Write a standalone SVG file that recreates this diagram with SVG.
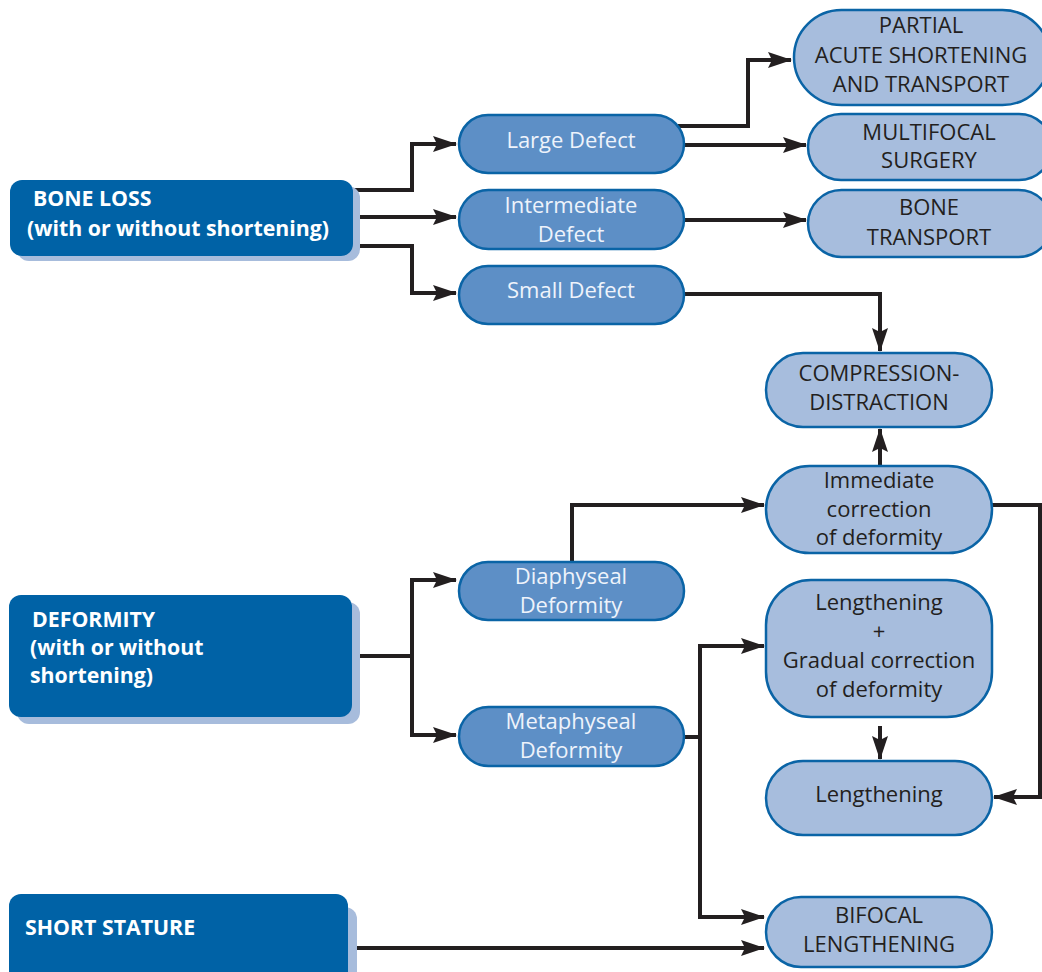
<svg xmlns="http://www.w3.org/2000/svg" width="1042" height="972" viewBox="0 0 1042 972">
<style>
.main{fill:#0062a6}
.shadow{fill:#a7bcdc}
.mid{fill:#5d8fc6;stroke:#0a64a6;stroke-width:2.5}
.light{fill:#a7bddd;stroke:#0a64a6;stroke-width:2.5}
.bt{font-family:"Open Sans","Liberation Sans",sans-serif;font-weight:bold;font-size:21.3px;fill:#ffffff}
.mt{font-family:"Open Sans","Liberation Sans",sans-serif;font-size:22px;fill:#eef3fb;text-anchor:middle}
.lt{font-family:"Open Sans","Liberation Sans",sans-serif;font-size:22px;fill:#231f20;text-anchor:middle}
.c{fill:none;stroke:#231f20;stroke-width:4}
</style>
<defs>
<marker id="ah" markerUnits="userSpaceOnUse" markerWidth="24" markerHeight="16" viewBox="0 0 24 16" refX="23" refY="8" orient="auto">
<path d="M0,0 L24,8 L0,16 L4,8 z" fill="#231f20"/>
</marker>
</defs>
<rect width="1042" height="972" fill="#ffffff"/>
<g id="connectors">
<path class="c" d="M352,190 H412 V144 H456" marker-end="url(#ah)"/>
<path class="c" d="M352,217 H456" marker-end="url(#ah)"/>
<path class="c" d="M352,246 H412 V293 H456" marker-end="url(#ah)"/>
<path class="c" d="M678,126 H748 V60 H791" marker-end="url(#ah)"/>
<path class="c" d="M684,145 H806" marker-end="url(#ah)"/>
<path class="c" d="M684,220 H806" marker-end="url(#ah)"/>
<path class="c" d="M684,294 H880 V351" marker-end="url(#ah)"/>
<path class="c" d="M880,466 V429" marker-end="url(#ah)"/>
<path class="c" d="M572,562 V505 H764" marker-end="url(#ah)"/>
<path class="c" d="M992,505 H1040 V797 H994" marker-end="url(#ah)"/>
<path class="c" d="M352,656 H412"/>
<path class="c" d="M412,656 V580 H456" marker-end="url(#ah)"/>
<path class="c" d="M412,656 V735 H456" marker-end="url(#ah)"/>
<path class="c" d="M684,737 H700"/>
<path class="c" d="M700,737 V646 H764" marker-end="url(#ah)"/>
<path class="c" d="M700,737 V917 H764" marker-end="url(#ah)"/>
<path class="c" d="M880,726 V759" marker-end="url(#ah)"/>
<path class="c" d="M348,948 H764" marker-end="url(#ah)"/>
</g>
<g id="bone-loss">
<rect class="shadow" x="17" y="186" width="343" height="75" rx="12"/>
<rect class="main" x="10" y="180" width="343" height="76" rx="12"/>
<text class="bt" x="33" y="206">BONE LOSS</text>
<text class="bt" x="27" y="236">(with or without shortening)</text>
</g>
<g id="deformity">
<rect class="shadow" x="17" y="602" width="343" height="122" rx="12"/>
<rect class="main" x="9" y="595" width="343" height="122" rx="12"/>
<text class="bt" x="32" y="627">DEFORMITY</text>
<text class="bt" x="30" y="655">(with or without</text>
<text class="bt" x="30" y="683">shortening)</text>
</g>
<g id="short-stature">
<rect class="shadow" x="17" y="907" width="340" height="80" rx="12"/>
<rect class="main" x="9" y="894" width="339" height="90" rx="12"/>
<text class="bt" x="25" y="935">SHORT STATURE</text>
</g>
<g id="large-defect">
<rect class="mid" x="459" y="115" width="225" height="58" rx="29"/>
<text class="mt" x="571" y="148">Large Defect</text>
</g>
<g id="intermediate-defect">
<rect class="mid" x="459" y="190" width="225" height="59" rx="29.5"/>
<text class="mt" x="571" y="213">Intermediate</text>
<text class="mt" x="571" y="242">Defect</text>
</g>
<g id="small-defect">
<rect class="mid" x="459" y="266" width="225" height="58" rx="29"/>
<text class="mt" x="571" y="298">Small Defect</text>
</g>
<g id="partial">
<rect class="light" x="794" y="10" width="256" height="95" rx="47.5"/>
<text class="lt" x="921" y="33">PARTIAL</text>
<text class="lt" x="921" y="63">ACUTE SHORTENING</text>
<text class="lt" x="921" y="92">AND TRANSPORT</text>
</g>
<g id="multifocal">
<rect class="light" x="808" y="114" width="244" height="66" rx="33"/>
<text class="lt" x="929" y="140">MULTIFOCAL</text>
<text class="lt" x="929" y="168">SURGERY</text>
</g>
<g id="bone-transport">
<rect class="light" x="808" y="190" width="244" height="67" rx="33.5"/>
<text class="lt" x="929" y="215">BONE</text>
<text class="lt" x="929" y="245">TRANSPORT</text>
</g>
<g id="compression-distraction">
<rect class="light" x="766" y="353" width="226" height="74" rx="37"/>
<text class="lt" x="879" y="381">COMPRESSION-</text>
<text class="lt" x="879" y="410">DISTRACTION</text>
</g>
<g id="immediate-correction">
<rect class="light" x="766" y="466" width="226" height="87" rx="43.5"/>
<text class="lt" x="879" y="488">Immediate</text>
<text class="lt" x="879" y="517">correction</text>
<text class="lt" x="879" y="545">of deformity</text>
</g>
<g id="diaphyseal">
<rect class="mid" x="459" y="562" width="225" height="58" rx="29"/>
<text class="mt" x="571" y="584">Diaphyseal</text>
<text class="mt" x="571" y="613">Deformity</text>
</g>
<g id="metaphyseal">
<rect class="mid" x="459" y="707" width="225" height="59" rx="29.5"/>
<text class="mt" x="571" y="729">Metaphyseal</text>
<text class="mt" x="571" y="758">Deformity</text>
</g>
<g id="lengthening-gradual">
<rect class="light" x="766" y="580" width="226" height="137" rx="45"/>
<text class="lt" x="879" y="610">Lengthening</text>
<text class="lt" x="879" y="639">+</text>
<text class="lt" x="879" y="668">Gradual correction</text>
<text class="lt" x="879" y="697">of deformity</text>
</g>
<g id="lengthening">
<rect class="light" x="766" y="761" width="226" height="74" rx="37"/>
<text class="lt" x="879" y="802">Lengthening</text>
</g>
<g id="bifocal">
<rect class="light" x="766" y="897" width="226" height="70" rx="35"/>
<text class="lt" x="879" y="923">BIFOCAL</text>
<text class="lt" x="879" y="952">LENGTHENING</text>
</g>
</svg>
